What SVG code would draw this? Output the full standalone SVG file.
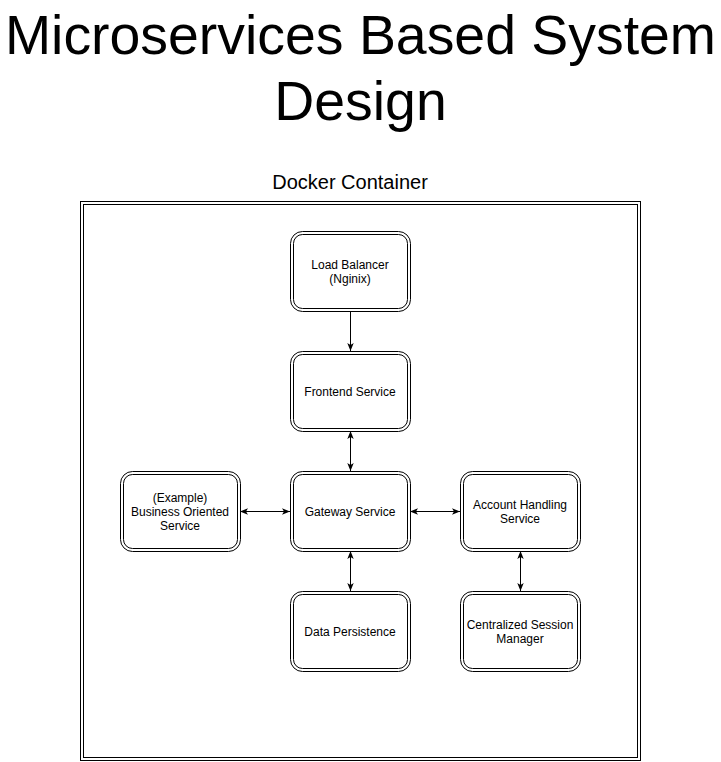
<svg xmlns="http://www.w3.org/2000/svg" width="721" height="762" viewBox="0 0 721 762">
<defs>
<style>
.t{font-family:"Liberation Sans",Arial,sans-serif;fill:#000}
.lbl{font-size:12px;text-anchor:middle}
.o{fill:#fff;stroke:#000;stroke-width:1}
.i{fill:none;stroke:#000;stroke-width:1}
.c{stroke:#000;stroke-width:1;fill:none}
</style>
<marker id="ae" viewBox="0 0 10 10" refX="10" refY="5" markerWidth="8" markerHeight="8" markerUnits="userSpaceOnUse" orient="auto">
<path d="M0,1 L10,5 L0,9 L2.5,5 Z" fill="#000"/>
</marker>
<marker id="as" viewBox="0 0 10 10" refX="0" refY="5" markerWidth="8" markerHeight="8" markerUnits="userSpaceOnUse" orient="auto">
<path d="M10,1 L0,5 L10,9 L7.5,5 Z" fill="#000"/>
</marker>
</defs>
<rect width="721" height="762" fill="#fff"/>
<g id="title">
<text class="t" x="360.5" y="54" font-size="55.4" text-anchor="middle">Microservices Based System</text>
<text class="t" x="360.5" y="120" font-size="55.4" text-anchor="middle">Design</text>
</g>
<g id="docker-container">
<text class="t" x="350" y="189" font-size="20" text-anchor="middle">Docker Container</text>
<rect class="o" x="80.5" y="201.5" width="560" height="559"/>
<rect class="i" x="83.5" y="204.5" width="554" height="553"/>
</g>
<g id="connectors">
<line class="c" x1="350.5" y1="311" x2="350.5" y2="351" marker-end="url(#ae)"/>
<line class="c" x1="350.5" y1="431" x2="350.5" y2="471" marker-start="url(#as)" marker-end="url(#ae)"/>
<line class="c" x1="240" y1="511.5" x2="290" y2="511.5" marker-start="url(#as)" marker-end="url(#ae)"/>
<line class="c" x1="410" y1="511.5" x2="460" y2="511.5" marker-start="url(#as)" marker-end="url(#ae)"/>
<line class="c" x1="350.5" y1="551" x2="350.5" y2="591" marker-start="url(#as)" marker-end="url(#ae)"/>
<line class="c" x1="520.5" y1="551" x2="520.5" y2="591" marker-start="url(#as)" marker-end="url(#ae)"/>
</g>
<g id="load-balancer">
<rect class="o" x="290.5" y="231.5" width="120" height="80" rx="12"/>
<rect class="i" x="293.5" y="234.5" width="114" height="74" rx="9"/>
<text class="t lbl" x="350" y="269">Load Balancer</text>
<text class="t lbl" x="350" y="283">(Nginix)</text>
</g>
<g id="frontend-service">
<rect class="o" x="290.5" y="351.5" width="120" height="80" rx="12"/>
<rect class="i" x="293.5" y="354.5" width="114" height="74" rx="9"/>
<text class="t lbl" x="350" y="396">Frontend Service</text>
</g>
<g id="gateway-service">
<rect class="o" x="290.5" y="471.5" width="120" height="80" rx="12"/>
<rect class="i" x="293.5" y="474.5" width="114" height="74" rx="9"/>
<text class="t lbl" x="350" y="516">Gateway Service</text>
</g>
<g id="business-service">
<rect class="o" x="120.5" y="471.5" width="120" height="80" rx="12"/>
<rect class="i" x="123.5" y="474.5" width="114" height="74" rx="9"/>
<text class="t lbl" x="180" y="502">(Example)</text>
<text class="t lbl" x="180" y="516">Business Oriented</text>
<text class="t lbl" x="180" y="530">Service</text>
</g>
<g id="account-service">
<rect class="o" x="460.5" y="471.5" width="120" height="80" rx="12"/>
<rect class="i" x="463.5" y="474.5" width="114" height="74" rx="9"/>
<text class="t lbl" x="520" y="509">Account Handling</text>
<text class="t lbl" x="520" y="523">Service</text>
</g>
<g id="data-persistence">
<rect class="o" x="290.5" y="591.5" width="120" height="80" rx="12"/>
<rect class="i" x="293.5" y="594.5" width="114" height="74" rx="9"/>
<text class="t lbl" x="350" y="636">Data Persistence</text>
</g>
<g id="session-manager">
<rect class="o" x="460.5" y="591.5" width="120" height="80" rx="12"/>
<rect class="i" x="463.5" y="594.5" width="114" height="74" rx="9"/>
<text class="t lbl" x="520" y="629">Centralized Session</text>
<text class="t lbl" x="520" y="643">Manager</text>
</g>
</svg>
